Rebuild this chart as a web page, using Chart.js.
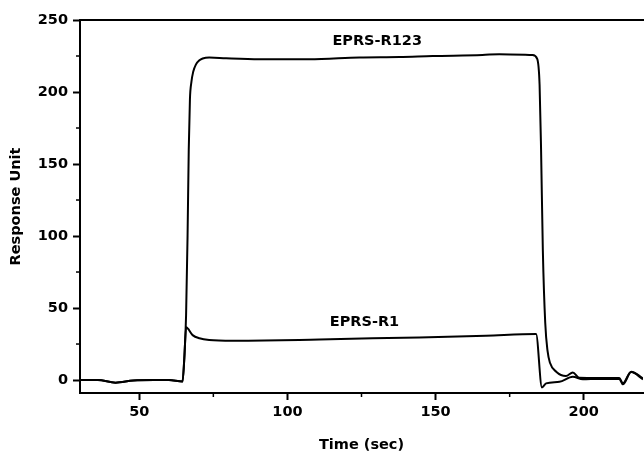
<!DOCTYPE html>
<html>
<head>
<meta charset="utf-8">
<script src="https://cdn.jsdelivr.net/npm/chart.js@4/dist/chart.umd.min.js"></script>
<style>
  html, body { margin: 0; padding: 0; background: #fff; }
  #wrap { width: 644px; height: 454px; }
</style>
</head>
<body>
<div id="wrap"><canvas id="sprChart" width="644" height="454"></canvas></div>
<script>
// EPRS-R123 (tiempo en s, respuesta en RU)
const r123Time = [30, 36, 42, 48, 55, 60, 64.6, 65.2, 65.8, 66.3, 66.7, 67.1, 67.6, 68.2, 69.1, 70.3, 71.4, 73.6, 79.3, 90.5, 107.4, 124.3, 137.8, 149, 165.8, 171.5, 182.7, 184.3, 185.1, 185.6, 186.2, 187.0, 187.8, 188.6, 190.7, 194, 196.3, 198.5, 205, 212, 213.2, 216, 220]
const r123Resp = [0, 0, -1.8, -0.3, 0, 0, -1, 15, 45, 100, 160, 195, 207, 214, 219, 222, 223.3, 224, 223.4, 222.7, 222.7, 224, 224.3, 225, 225.7, 226.3, 225.7, 223, 205, 160, 90, 40, 20, 12, 5.8, 2.8, 5.3, 1.6, 1.4, 1.4, -2.3, 5.8, 1.2]

// EPRS-R1
const r1Time = [30, 36, 42, 48, 55, 60, 64.6, 65.2, 65.8, 68, 70.3, 73.6, 81.5, 104, 110.8, 144.5, 167, 183.9, 185.9, 187.3, 191.8, 196.3, 199.7, 205, 212, 213.2, 216, 220]
const r1Resp = [0, 0, -1.8, -0.3, 0, 0, -1, 15, 36.6, 31.2, 29, 27.8, 27.3, 27.8, 28.2, 29.6, 30.8, 31.9, -5.1, -2.3, -1.2, 2.3, 0.5, 0.8, 0.8, -3, 5.5, 0.5]

// etiquetas de las curvas
const curveLabels = ["EPRS-R123", "EPRS-R1"]
const curveLabelX = [130.3, 126]
const curveLabelY = [235, 39.8]

// ejes
const xMin = 30, xMax = 220, xMajor = 50, xMinor = 25
const yMin = -9, yMax = 250, yMajor = 50, yMinor = 25

const font = { family: "DejaVu Sans", weight: "bold", size: 14.5 }

function toPoints(xs, ys){
    return xs.map((x, i) => ({ x: x, y: ys[i] }))
}

function isMajor(v, step){
    return Math.abs(v % step) < 1e-6
}

// marco superior, ticks menores y etiquetas
const decorPlugin = {
    id: "decor",
    afterDraw(chart){
        const ctx = chart.ctx
        const area = chart.chartArea
        const xs = chart.scales.x
        const ys = chart.scales.y
        ctx.save()
        ctx.strokeStyle = "#000"
        ctx.lineWidth = 2
        ctx.beginPath()
        ctx.moveTo(area.left - 1, area.top)
        ctx.lineTo(area.right + 1, area.top)
        ctx.stroke()

        ctx.lineWidth = 1.5
        for (let v = Math.ceil(xMin / xMinor) * xMinor; v <= xMax; v += xMinor) {
            if (isMajor(v, xMajor)) continue
            const px = xs.getPixelForValue(v)
            ctx.beginPath()
            ctx.moveTo(px, area.bottom)
            ctx.lineTo(px, area.bottom + 4)
            ctx.stroke()
        }
        for (let v = Math.ceil(yMin / yMinor) * yMinor; v <= yMax; v += yMinor) {
            if (isMajor(v, yMajor)) continue
            const py = ys.getPixelForValue(v)
            ctx.beginPath()
            ctx.moveTo(area.left, py)
            ctx.lineTo(area.left - 4, py)
            ctx.stroke()
        }

        ctx.fillStyle = "#000"
        ctx.font = "bold 14.5px 'DejaVu Sans'"
        ctx.textAlign = "center"
        ctx.textBaseline = "middle"
        curveLabels.forEach((t, i) => {
            ctx.fillText(t, xs.getPixelForValue(curveLabelX[i]), ys.getPixelForValue(curveLabelY[i]))
        })
        ctx.restore()
    }
}

const lineStyle = {
    borderColor: "#000",
    borderWidth: 2,
    pointRadius: 0,
    fill: false,
    cubicInterpolationMode: "monotone"
}

new Chart(document.getElementById("sprChart"), {
    type: "line",
    data: {
        datasets: [
            Object.assign({ label: curveLabels[0], data: toPoints(r123Time, r123Resp) }, lineStyle),
            Object.assign({ label: curveLabels[1], data: toPoints(r1Time, r1Resp) }, lineStyle)
        ]
    },
    options: {
        responsive: false,
        animation: false,
        devicePixelRatio: 1,
        layout: { padding: { top: 20, right: 1, left: 0, bottom: 0 } },
        plugins: {
            legend: { display: false },
            tooltip: { enabled: false }
        },
        scales: {
            x: {
                type: "linear",
                min: xMin,
                max: xMax,
                border: { display: true, color: "#000", width: 2 },
                grid: {
                    drawOnChartArea: false,
                    drawTicks: true,
                    tickLength: 7,
                    tickWidth: 2,
                    tickColor: c => (c.tick && isMajor(c.tick.value, xMajor)) ? "#000" : "rgba(0,0,0,0)"
                },
                ticks: {
                    stepSize: xMinor,
                    includeBounds: false,
                    autoSkip: false,
                    maxRotation: 0,
                    padding: 4,
                    color: "#000",
                    font: font,
                    callback: v => isMajor(v, xMajor) ? v : ""
                },
                title: { display: true, text: "Time (sec)", color: "#000", font: font, padding: { top: 0, bottom: 0 } },
                afterFit: s => { s.height = 61 }
            },
            y: {
                min: yMin,
                max: yMax,
                border: { display: true, color: "#000", width: 2 },
                grid: {
                    drawOnChartArea: false,
                    drawTicks: true,
                    tickLength: 7,
                    tickWidth: 2,
                    tickColor: c => (c.tick && isMajor(c.tick.value, yMajor)) ? "#000" : "rgba(0,0,0,0)"
                },
                ticks: {
                    stepSize: yMinor,
                    includeBounds: false,
                    autoSkip: false,
                    padding: 5,
                    color: "#000",
                    font: font,
                    callback: v => isMajor(v, yMajor) ? v : ""
                },
                title: { display: true, text: "Response Unit", color: "#000", font: font, padding: { top: 8, bottom: 0 } },
                afterFit: s => { s.width = 80 }
            }
        }
    },
    plugins: [decorPlugin]
})
</script>
</body>
</html>
